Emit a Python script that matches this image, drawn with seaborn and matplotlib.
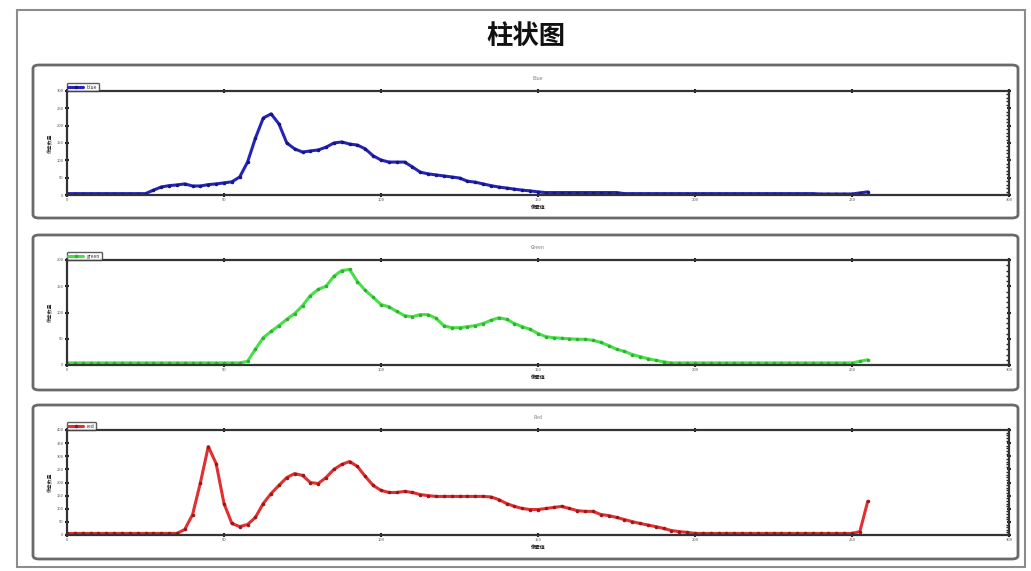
import numpy as np
import pandas as pd
import matplotlib
import matplotlib.pyplot as plt
import seaborn as sns
from matplotlib.patches import FancyBboxPatch, Rectangle
from matplotlib.ticker import AutoMinorLocator

matplotlib.use('Agg')
sns.set_style("white")
plt.rcParams['font.family'] = ['Noto Sans CJK SC', 'DejaVu Sans']  # 中文显示
plt.rcParams['axes.unicode_minus'] = False

# 像素值采样点（0-255）
PIXEL_VALUES = np.linspace(0, 255, 103)

# 各通道像素数量
BLUE_COUNTS = [4] * 11 + [
    14, 23, 27, 29, 32, 26, 26, 30, 32, 35, 38, 52, 95, 164, 222, 234, 205, 150, 133, 124,
    127, 130, 138, 150, 153, 147, 144, 133, 113, 101, 95, 95, 95, 81, 66, 61, 58, 55, 52, 49,
    40, 37, 32, 27, 23, 20, 17, 14, 12, 9] + [7] * 10 + [4] * 25 + [3] * 5 + [6, 9]

GREEN_COUNTS = [4] * 23 + [
    7, 30, 52, 64, 75, 87, 98, 113, 132, 144, 150, 169, 180, 182, 159, 142, 129, 115, 111, 102,
    94, 92, 96, 96, 89, 75, 71, 71, 73, 75, 79, 85, 90, 87, 79, 73, 68, 60, 54, 52,
    51, 50, 49, 49, 47, 43, 37, 30, 26, 20, 16, 12, 9, 6] + [4] * 24 + [7, 10]

RED_COUNTS = [6] * 15 + [
    21, 78, 200, 337, 272, 120, 44, 32, 40, 67, 120, 158, 189, 219, 234, 227, 200, 196, 219, 250,
    269, 280, 261, 223, 189, 170, 162, 162, 166, 162, 154, 150, 147, 147, 147, 147, 147, 147, 147, 145,
    135, 120, 109, 101, 97, 97, 101, 105, 109, 101, 93, 90, 90, 78, 74, 67, 59, 51, 44, 38,
    32, 25, 17, 13, 10, 6] + [6] * 20 + [13, 128]

X_TICKS = [0, 50, 100, 150, 200, 250, 300]
PANELS = [
    ("Blue", "blue", BLUE_COUNTS, "#2424b8", "#16167a", [0, 50, 100, 150, 200, 250, 300]),
    ("Green", "green", GREEN_COUNTS, "#48e048", "#30b030", [0, 50, 100, 150, 200]),
    ("Red", "red", RED_COUNTS, "#e03030", "#9a1818", [0, 50, 100, 150, 200, 250, 300, 350, 400]),
]

W, H = 1031, 571
fig = plt.figure(figsize=(W / 100, H / 100), dpi=100)

# 外框
fig.patches.append(Rectangle((17 / W, 4 / H), 1008 / W, 1 - 14 / H, transform=fig.transFigure,
                             fill=False, edgecolor="#8c8c8c", linewidth=1.5))
fig.text(0.51, 1 - 36 / H, "柱状图", ha="center", va="center", fontsize=19, fontweight="bold",
         color="#111111")

# 面板位置（像素，从顶部算）：外框上/下，坐标轴上/下
boxes = [(65, 218, 91, 195), (235, 390, 260, 365), (405, 559, 430, 535)]

for (title, name, counts, color, mcolor, yticks), (bt, bb, at, ab) in zip(PANELS, boxes):
    fig.patches.append(FancyBboxPatch((33 / W, 1 - bb / H), 985 / W, (bb - bt) / H,
                                      boxstyle="round,pad=0,rounding_size=0.006",
                                      transform=fig.transFigure, fill=False,
                                      edgecolor="#6a6a6a", linewidth=2))
    ax = fig.add_axes([67 / W, 1 - ab / H, 942 / W, (ab - at) / H])
    df = pd.DataFrame({"x": PIXEL_VALUES, "y": counts})
    sns.lineplot(data=df, x="x", y="y", ax=ax, color=color, linewidth=2.2,
                 marker="o", markersize=1.8, markerfacecolor=mcolor, markeredgecolor=mcolor,
                 label=name)
    ax.set_xlim(0, 300)
    ax.set_ylim(yticks[0], yticks[-1])
    ax.set_xticks(X_TICKS)
    ax.set_yticks(yticks)
    ax.yaxis.set_minor_locator(AutoMinorLocator(5))
    ax.tick_params(axis="both", which="major", direction="inout", length=3, width=1.5,
                   labelsize=3, labelcolor="#555555", color="#222222", pad=1,
                   top=True, bottom=True, left=True, right=True)
    ax.tick_params(axis="y", which="minor", direction="in", length=2, width=1, right=True, left=False)
    ax.set_title(title, fontsize=3.5, color="#777777", pad=8)
    ax.set_xlabel("像素值", fontsize=3.5, fontweight="bold", labelpad=2)
    ax.set_ylabel("像素数量", fontsize=3.5, labelpad=2)
    for s in ax.spines.values():
        s.set_color("#333333")
        s.set_linewidth(1.6)
    leg = ax.legend(loc="lower left", bbox_to_anchor=(0, 1), borderaxespad=0, fontsize=3.5,
                    frameon=True, handlelength=3, borderpad=0.3, fancybox=True)
    leg.get_frame().set_edgecolor("#333333")
    leg.get_frame().set_linewidth(1)

plt.savefig("out.png", dpi=100)
plt.close()
